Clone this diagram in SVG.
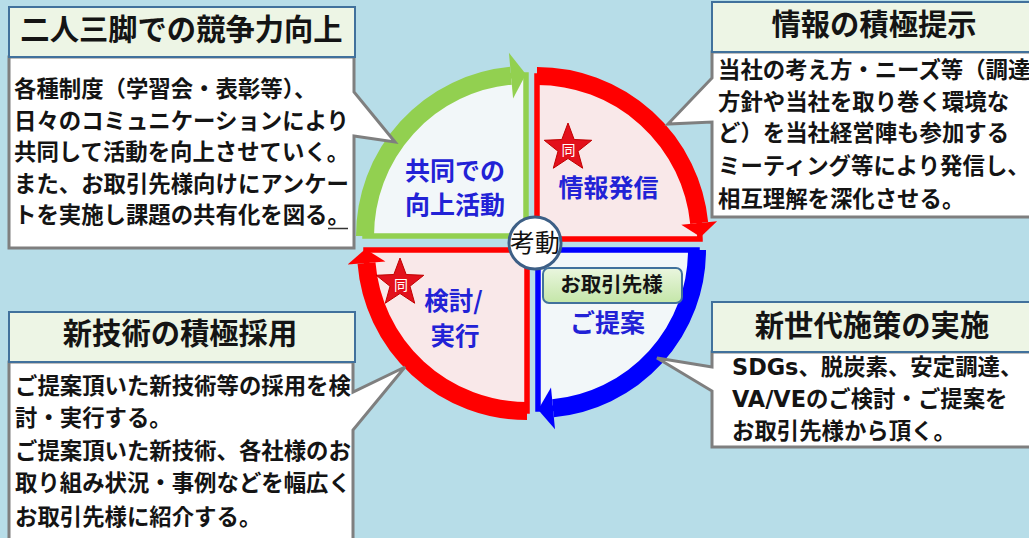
<svg xmlns="http://www.w3.org/2000/svg" xml:lang="ja" width="1029" height="538" viewBox="0 0 1029 538">
<defs>
<style>
text{font-family:'Noto Sans CJK JP','Noto Sans',sans-serif}
.ttl{font-size:29.3px;font-weight:700;fill:#141414;text-anchor:middle}
.bd{font-size:22.4px;font-weight:700;fill:#141414}
.lat{font-family:'DejaVu Sans','Noto Sans CJK JP',sans-serif}
.q{font-size:25px;font-weight:700;fill:#2222d6;text-anchor:middle}
.tbox{fill:#edf5e5;stroke:#41719c;stroke-width:2}
.body{fill:#fff;stroke:#7f7f7f;stroke-width:3;stroke-linejoin:miter}
.band{fill:none;stroke-width:18}
.pie{stroke-width:5.5;stroke-linejoin:miter}
.st{font-size:14px;fill:#fff;text-anchor:middle}
</style>
<linearGradient id="gl" x1="0" y1="0" x2="0" y2="1"><stop offset="0" stop-color="#eaf6df"/><stop offset="1" stop-color="#c4e6a8"/></linearGradient>
<polygon id="star" points="0,-25 6.17,-8.49 23.78,-7.73 9.99,3.24 14.69,20.23 0,10.5 -14.69,20.23 -9.99,3.24 -23.78,-7.73 -6.17,-8.49" fill="#e3101b" stroke="#c00000" stroke-width="1"/>
</defs>
<rect x="0" y="0" width="1029" height="538" fill="#b7dde8"/>

<g id="quadrant-tl">
<path class="pie" d="M526,236 H365 A161 161 0 0 1 526,75 Z" fill="#f2f7f9" stroke="#92d050"/>
<text class="q"><tspan x="455" y="180">共同での</tspan><tspan x="455" y="214">向上活動</tspan></text>
</g>
<g id="quadrant-tr">
<path class="pie" d="M537,239 V76 A163 163 0 0 1 700,239 Z" fill="#f9e8e9" stroke="#ff0000"/>
<text class="q" x="608.5" y="196.5">情報発信</text>
</g>
<g id="quadrant-br">
<path class="pie" d="M538,250 H697 A159 159 0 0 1 538,409 Z" fill="#f2f7f9" stroke="#0000ff"/>
<text class="q" x="607.5" y="332">ご提案</text>
</g>
<g id="quadrant-bl">
<path class="pie" d="M527,250 V411 A161 161 0 0 1 366,250 Z" fill="#f9e8e9" stroke="#ff0000"/>
<text class="q" style="font-size:24.5px"><tspan x="453.5" y="309.5">検討/</tspan><tspan x="455" y="345">実行</tspan></text>
</g>

<g id="connectors">
<path class="band" d="M365,236 A161 161 0 0 1 511,75.7" stroke="#92d050"/>
<polygon points="508.9,52.8 525.9,74.3 513.1,98.6" fill="#92d050"/>
<path class="band" d="M537,76 A163 163 0 0 1 699.2,223" stroke="#ff0000"/>
<polygon points="681.3,224.8 700.6,236.9 717.1,221.2" fill="#ff0000"/>
<path class="band" d="M697,250 A159 159 0 0 1 553,408.3" stroke="#0000ff"/>
<polygon points="551,387.4 538.1,409.7 555,429.2" fill="#0000ff"/>
<path class="band" d="M527,411 A161 161 0 0 1 366.5,263" stroke="#ff0000"/>
<polygon points="347.6,264.5 365.4,249 385.4,261.5" fill="#ff0000"/>
</g>

<g id="star-1">
<use href="#star" x="568" y="148"/>
<text class="st" x="568.5" y="155">同</text>
</g>
<g id="star-2">
<use href="#star" x="400" y="283"/>
<text class="st" x="401" y="290">同</text>
</g>

<g id="center">
<circle cx="535" cy="243" r="26" fill="#fff" stroke="#3d5f86" stroke-width="3"/>
<text x="535" y="251.5" font-size="25" fill="#111" text-anchor="middle">考動</text>
</g>

<g id="label-customer">
<rect x="543" y="268" width="139" height="35" rx="6" fill="url(#gl)" stroke="#41719c" stroke-width="2"/>
<text x="611.5" y="291.5" font-size="20.5" font-weight="700" fill="#141414" text-anchor="middle">お取引先様</text>
</g>

<g id="box-tl">
<path class="body" d="M9,57 H354 V92 L395,142 L354,136 V248 H9 Z"/>
<rect class="tbox" x="9" y="7" width="346" height="50"/>
<text class="ttl" x="181.5" y="40">二人三脚での競争力向上</text>
<text class="bd" x="14" y="97">各種制度（学習会・表彰等）、</text>
<text class="bd" x="14" y="128.5">日々のコミュニケーションにより</text>
<text class="bd" x="14" y="160">共同して活動を向上させていく。</text>
<text class="bd" x="14" y="191.5">また、お取引先様向けにアンケー</text>
<text class="bd" x="14" y="223">トを実施し課題の共有化を図る。</text>
<line x1="328" y1="228.5" x2="348" y2="228.5" stroke="#333" stroke-width="1.5"/>
</g>

<g id="box-tr">
<path class="body" d="M712,52 H1040 V217 H712 V122 L668,124 L712,78 Z"/>
<rect class="tbox" x="712" y="2" width="330" height="50"/>
<text class="ttl" x="874" y="34.5">情報の積極提示</text>
<text class="bd" x="718" y="78">当社の考え方・ニーズ等（調達</text>
<text class="bd" x="718" y="110">方針や当社を取り巻く環境な</text>
<text class="bd" x="718" y="141">ど）を当社経営陣も参加する</text>
<text class="bd" x="718" y="174">ミーティング等により発信し、</text>
<text class="bd" x="718" y="207">相互理解を深化させる。</text>
</g>

<g id="box-bl">
<path class="body" d="M9,362 H353 V392 L405,367 L353,430 V545 H9 Z"/>
<rect class="tbox" x="9" y="312" width="346" height="50"/>
<text class="ttl" x="180" y="344">新技術の積極採用</text>
<text class="bd" x="15" y="394">ご提案頂いた新技術等の採用を検</text>
<text class="bd" x="15" y="425.5">討・実行する。</text>
<text class="bd" x="15" y="459">ご提案頂いた新技術、各社様のお</text>
<text class="bd" x="15" y="490.5">取り組み状況・事例などを幅広く</text>
<text class="bd" x="15" y="525">お取引先様に紹介する。</text>
</g>

<g id="box-br">
<path class="body" d="M712,352 H1040 V447 H712 V391 L657,358 L712,367 Z"/>
<rect class="tbox" x="712" y="302" width="330" height="50"/>
<text class="ttl" x="872" y="335.5">新世代施策の実施</text>
<text class="bd" x="732" y="375"><tspan class="lat">SDGs</tspan>、脱炭素、安定調達、</text>
<text class="bd" x="732" y="407"><tspan class="lat">VA/VE</tspan>のご検討・ご提案を</text>
<text class="bd" x="732" y="439">お取引先様から頂く。</text>
</g>
</svg>
